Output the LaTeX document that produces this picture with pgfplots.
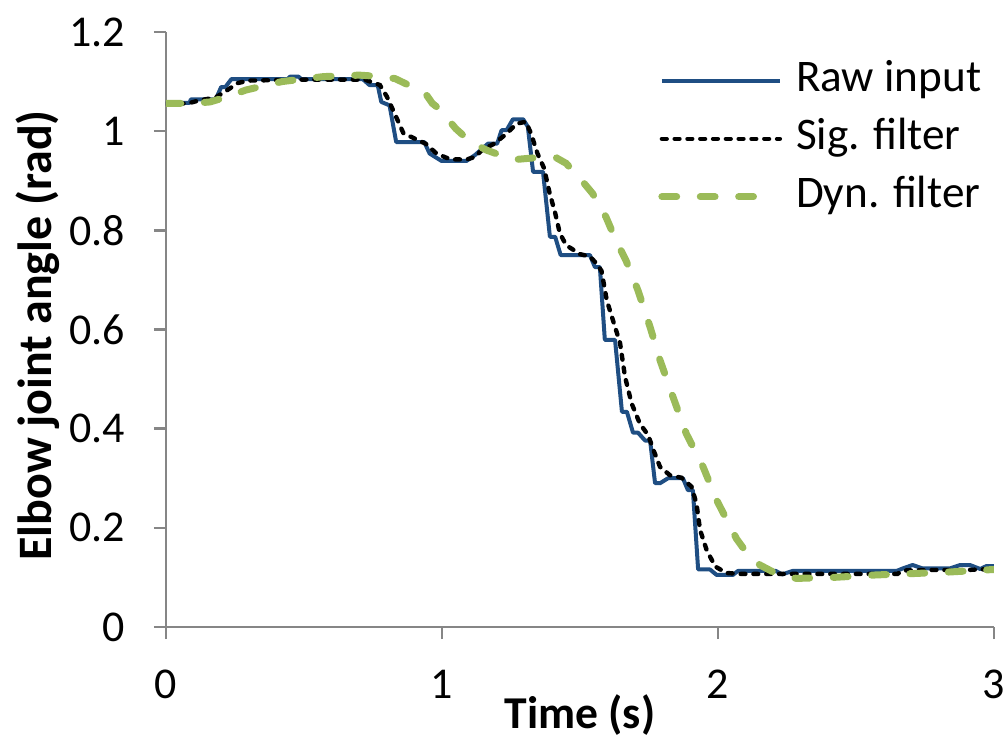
\documentclass[border=0pt]{standalone}
\usepackage{fontspec}
\setmainfont{Carlito}
\usepackage{pgfplots}
\pgfplotsset{compat=1.18}

\definecolor{rawblue}{RGB}{31,78,131}
\definecolor{dyngreen}{RGB}{155,187,89}
\definecolor{axgray}{RGB}{134,134,134}

\pgfplotsset{
    long legend/.style={legend image code/.code={\draw[##1] (0bp,0bp) -- (29.5bp,0bp);}},
    short legend/.style={legend image code/.code={\draw[##1] (0bp,0bp) -- (25bp,0bp);}},
}

\begin{document}
\begin{tikzpicture}
\begin{axis}[
    name=ax,
    scale only axis,
    width=207bp, height=148.75bp,
    xmin=0, xmax=3, ymin=0, ymax=1.2,
    xtick={0,1,2,3},
    ytick={0,0.2,0.4,0.6,0.8,1,1.2},
    axis lines=left,
    axis line style={draw=axgray, line width=0.6bp, -},
    tick style={draw=axgray, line width=0.6bp},
    tick align=outside,
    major tick length=3bp,
    /pgf/number format/assume math mode=true,
    ticklabel style={font=\fontsize{11bp}{13bp}\selectfont, inner sep=0pt},
    xticklabel style={anchor=north, yshift=-7.5bp},
    yticklabel style={anchor=east, xshift=-7bp},
    xlabel={\textbf{Time (s)}},
    ylabel={\textbf{Elbow joint angle (rad)}},
    xlabel style={font=\fontsize{11.4bp}{13bp}\selectfont, at={(axis description cs:0.5,-0.112)}, anchor=north, inner sep=0pt},
    ylabel style={font=\fontsize{12bp}{14bp}\selectfont, at={(axis description cs:-0.1546,0.49)}, anchor=center, inner sep=0pt},
    legend style={draw=none, fill=none, at={(1.0,0.968)}, anchor=north east,
        font=\fontsize{11.3bp}{13bp}\selectfont, row sep=4bp, column sep=3.5bp,
        nodes={inner sep=0pt, text height=8bp, text depth=2.5bp}},
    legend cell align=left,
    long legend,
]
\addplot[rawblue, line width=1bp, line join=round] coordinates {
(0,1.057) (0.085,1.057) (0.09,1.064) (0.18,1.064) (0.20,1.089) (0.215,1.089)
(0.237,1.105) (0.44,1.105) (0.45,1.11) (0.48,1.11) (0.49,1.105) (0.713,1.105)
(0.737,1.093) (0.767,1.093) (0.78,1.059) (0.81,1.052) (0.834,0.978) (0.936,0.978)
(0.955,0.955) (0.998,0.940) (1.089,0.940) (1.12,0.952) (1.167,0.975) (1.2,0.975)
(1.216,1.002) (1.234,1.002) (1.257,1.024) (1.294,1.024) (1.311,1.009) (1.33,0.918)
(1.366,0.918) (1.391,0.787) (1.41,0.787) (1.43,0.75) (1.536,0.75) (1.554,0.726)
(1.572,0.726) (1.59,0.579) (1.627,0.579) (1.652,0.434) (1.67,0.434) (1.692,0.392)
(1.71,0.392) (1.736,0.376) (1.754,0.376) (1.772,0.290) (1.79,0.290) (1.819,0.30)
(1.873,0.30) (1.891,0.276) (1.909,0.276) (1.928,0.116) (1.971,0.116) (1.995,0.105)
(2.054,0.105) (2.072,0.113) (2.21,0.113) (2.232,0.106) (2.27,0.113) (2.647,0.113)
(2.669,0.118) (2.705,0.125) (2.742,0.118) (2.84,0.118) (2.877,0.125) (2.913,0.125)
(2.95,0.117) (2.973,0.123) (3.0,0.123)
};
\addlegendentry{Raw input}
\addplot[black, line width=1.1bp, line cap=round, dash pattern=on 1.2bp off 2bp] coordinates {
(0,1.055) (0.08,1.056) (0.12,1.062) (0.18,1.068) (0.22,1.082) (0.26,1.097)
(0.30,1.102) (0.5,1.104) (0.72,1.104) (0.775,1.093) (0.80,1.07) (0.823,1.042)
(0.845,1.015) (0.86,0.996) (0.905,0.984) (0.94,0.975) (0.98,0.955) (1.03,0.943)
(1.09,0.943) (1.12,0.948) (1.145,0.962) (1.19,0.975) (1.234,0.995) (1.27,1.015)
(1.304,1.019) (1.322,0.996) (1.346,0.955) (1.37,0.925) (1.39,0.875) (1.41,0.835)
(1.427,0.794) (1.45,0.770) (1.5,0.752) (1.536,0.747) (1.56,0.733) (1.578,0.718)
(1.597,0.659) (1.627,0.605) (1.645,0.573) (1.663,0.505) (1.687,0.451) (1.717,0.41)
(1.747,0.387) (1.766,0.357) (1.79,0.323) (1.826,0.306) (1.868,0.301) (1.904,0.283)
(1.922,0.249) (1.935,0.196) (1.959,0.155) (1.99,0.122) (2.03,0.109) (2.08,0.107)
(2.65,0.107) (2.67,0.114) (2.78,0.115) (2.9,0.115) (3.0,0.117)
};
\addlegendentry{Sig. filter}
\addplot[dyngreen, line width=1.75bp, line cap=round, dash pattern=on 3.7bp off 5.9bp, short legend] coordinates {
(0,1.056) (0.1,1.056) (0.16,1.059) (0.22,1.069) (0.29,1.083) (0.42,1.1)
(0.57,1.11) (0.70,1.113) (0.78,1.11) (0.83,1.106) (0.89,1.09) (0.94,1.076)
(0.965,1.056) (0.99,1.045) (1.05,1.005) (1.10,0.98) (1.16,0.962) (1.22,0.95)
(1.27,0.943) (1.33,0.946) (1.38,0.948) (1.415,0.946) (1.45,0.935) (1.51,0.898)
(1.546,0.874) (1.594,0.827) (1.63,0.78) (1.666,0.74) (1.71,0.679) (1.754,0.605)
(1.79,0.538) (1.837,0.464) (1.885,0.39) (1.946,0.323) (1.995,0.256) (2.067,0.178)
(2.11,0.145) (2.152,0.125) (2.21,0.108) (2.284,0.098) (2.417,0.1) (2.573,0.105)
(2.717,0.108) (2.84,0.111) (3.0,0.116)
};
\addlegendentry{Dyn. filter}
\end{axis}
\pgfresetboundingbox
\path[use as bounding box] ([shift={(-41.5bp,-27.25bp)}]ax.south west) rectangle ([shift={(3bp,8bp)}]ax.north east);
\end{tikzpicture}
\end{document}
